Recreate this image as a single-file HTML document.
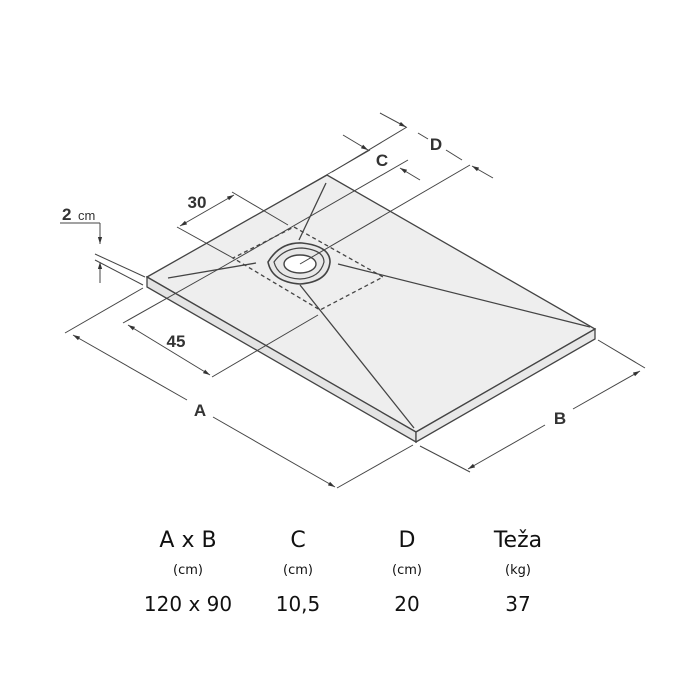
<!DOCTYPE html>
<html><head><meta charset="utf-8"><style>
html,body{margin:0;padding:0;background:#fff;}
svg{display:block;}
</style></head><body>
<svg width="700" height="700" viewBox="0 0 700 700" xmlns="http://www.w3.org/2000/svg" font-family="Liberation Sans, sans-serif">
<defs>
<marker id="ar" viewBox="0 0 10 10" refX="10" refY="5" markerWidth="7" markerHeight="7" orient="auto-start-reverse"><path d="M0,2 L10,5 L0,8 z" fill="#333"/></marker>
</defs>
<g stroke="#444" stroke-width="1.3" fill="none">
<polygon points="147,277 327,175 595,329 416,432" fill="#eeeeee"/>
<polygon points="147,277 416,432 416,442 147,287" fill="#e4e4e4"/>
<polygon points="416,432 595,329 595,339 416,442" fill="#e8e8e8"/>
<line x1="168" y1="278" x2="256" y2="263"/>
<line x1="326" y1="183" x2="299" y2="240"/>
<line x1="338" y1="264" x2="590" y2="327"/>
<line x1="300" y1="285" x2="414" y2="428"/>
<polygon points="294,227 383,277 320,310 233,258" stroke-dasharray="4,3"/>
<path d="M268,262 Q280,242 302,243 Q330,246 330,262 Q328,282 300,284 Q272,282 268,262z" fill="#e8e8e8" stroke-width="1.6"/>
<path d="M274,262 Q284,248 302,248 Q324,250 324,262 Q320,278 300,279 Q278,278 274,262z" stroke-width="1.2"/>
<ellipse cx="300" cy="264" rx="16" ry="9" fill="#fff" stroke-width="1.4"/>
<line x1="143" y1="288" x2="65" y2="333" stroke-width="1"/>
<line x1="413" y1="445" x2="337" y2="488" stroke-width="1"/>
<line x1="73" y1="335" x2="187" y2="400" marker-start="url(#ar)" stroke-width="1"/>
<line x1="213" y1="417" x2="335" y2="487" marker-end="url(#ar)" stroke-width="1"/>
<line x1="420" y1="446" x2="470" y2="472" stroke-width="1"/>
<line x1="598" y1="340" x2="645" y2="368" stroke-width="1"/>
<line x1="468" y1="469" x2="545" y2="425" marker-start="url(#ar)" stroke-width="1"/>
<line x1="573" y1="409" x2="640" y2="371" marker-end="url(#ar)" stroke-width="1"/>
<line x1="123" y1="323" x2="217" y2="270" stroke-width="1"/>
<line x1="128" y1="325" x2="210" y2="375" marker-start="url(#ar)" marker-end="url(#ar)" stroke-width="1"/>
<line x1="212" y1="377" x2="318" y2="315" stroke-width="1"/>
<line x1="217" y1="270" x2="408" y2="160" stroke-width="1"/>
<line x1="300" y1="264" x2="470" y2="165" stroke-width="1"/>
<line x1="177" y1="227" x2="233" y2="258" stroke-width="1"/>
<line x1="232" y1="192" x2="288" y2="225" stroke-width="1"/>
<line x1="180" y1="226" x2="234" y2="195" marker-start="url(#ar)" marker-end="url(#ar)" stroke-width="1"/>
<line x1="343" y1="135" x2="368" y2="150" marker-end="url(#ar)" stroke-width="1"/>
<line x1="420" y1="180" x2="400" y2="168" marker-end="url(#ar)" stroke-width="1"/>
<line x1="370" y1="150" x2="295" y2="193" stroke-width="1"/>
<line x1="380" y1="113" x2="406" y2="127" marker-end="url(#ar)" stroke-width="1"/>
<line x1="493" y1="178" x2="472" y2="166" marker-end="url(#ar)" stroke-width="1"/>
<line x1="407" y1="127" x2="332" y2="172" stroke-width="1"/>
<line x1="418" y1="133" x2="428" y2="139" stroke-width="1"/>
<line x1="446" y1="150" x2="462" y2="160" stroke-width="1"/>
<line x1="60" y1="223" x2="100" y2="223" stroke-width="1"/>
<line x1="100" y1="223" x2="100" y2="244" marker-end="url(#ar)" stroke-width="1"/>
<line x1="100" y1="283" x2="100" y2="262" marker-end="url(#ar)" stroke-width="1"/>
<line x1="95" y1="254" x2="145" y2="277" stroke-width="1"/>
<line x1="95" y1="260" x2="143" y2="285" stroke-width="1"/>
</g>
<g fill="#333" font-weight="bold" font-size="17">
<text x="200" y="416" text-anchor="middle">A</text>
<text x="560" y="424" text-anchor="middle">B</text>
<text x="176" y="347" text-anchor="middle">45</text>
<text x="197" y="208" text-anchor="middle">30</text>
<text x="382" y="166" text-anchor="middle">C</text>
<text x="436" y="150" text-anchor="middle">D</text>
<text x="62" y="220">2</text>
<text x="78" y="220" font-size="13" font-weight="normal">cm</text>
</g>
<g fill="#111" text-anchor="middle" font-family="DejaVu Sans, sans-serif">
<text x="188" y="547" font-size="22">A x B</text>
<text x="298" y="547" font-size="22">C</text>
<text x="407" y="547" font-size="22">D</text>
<text x="518" y="547" font-size="22">Teža</text>
<text x="188" y="574" font-size="13">(cm)</text>
<text x="298" y="574" font-size="13">(cm)</text>
<text x="407" y="574" font-size="13">(cm)</text>
<text x="518" y="574" font-size="13">(kg)</text>
<text x="188" y="611" font-size="20">120 x 90</text>
<text x="298" y="611" font-size="20">10,5</text>
<text x="407" y="611" font-size="20">20</text>
<text x="518" y="611" font-size="20">37</text>
</g>
</svg>
</body></html>
